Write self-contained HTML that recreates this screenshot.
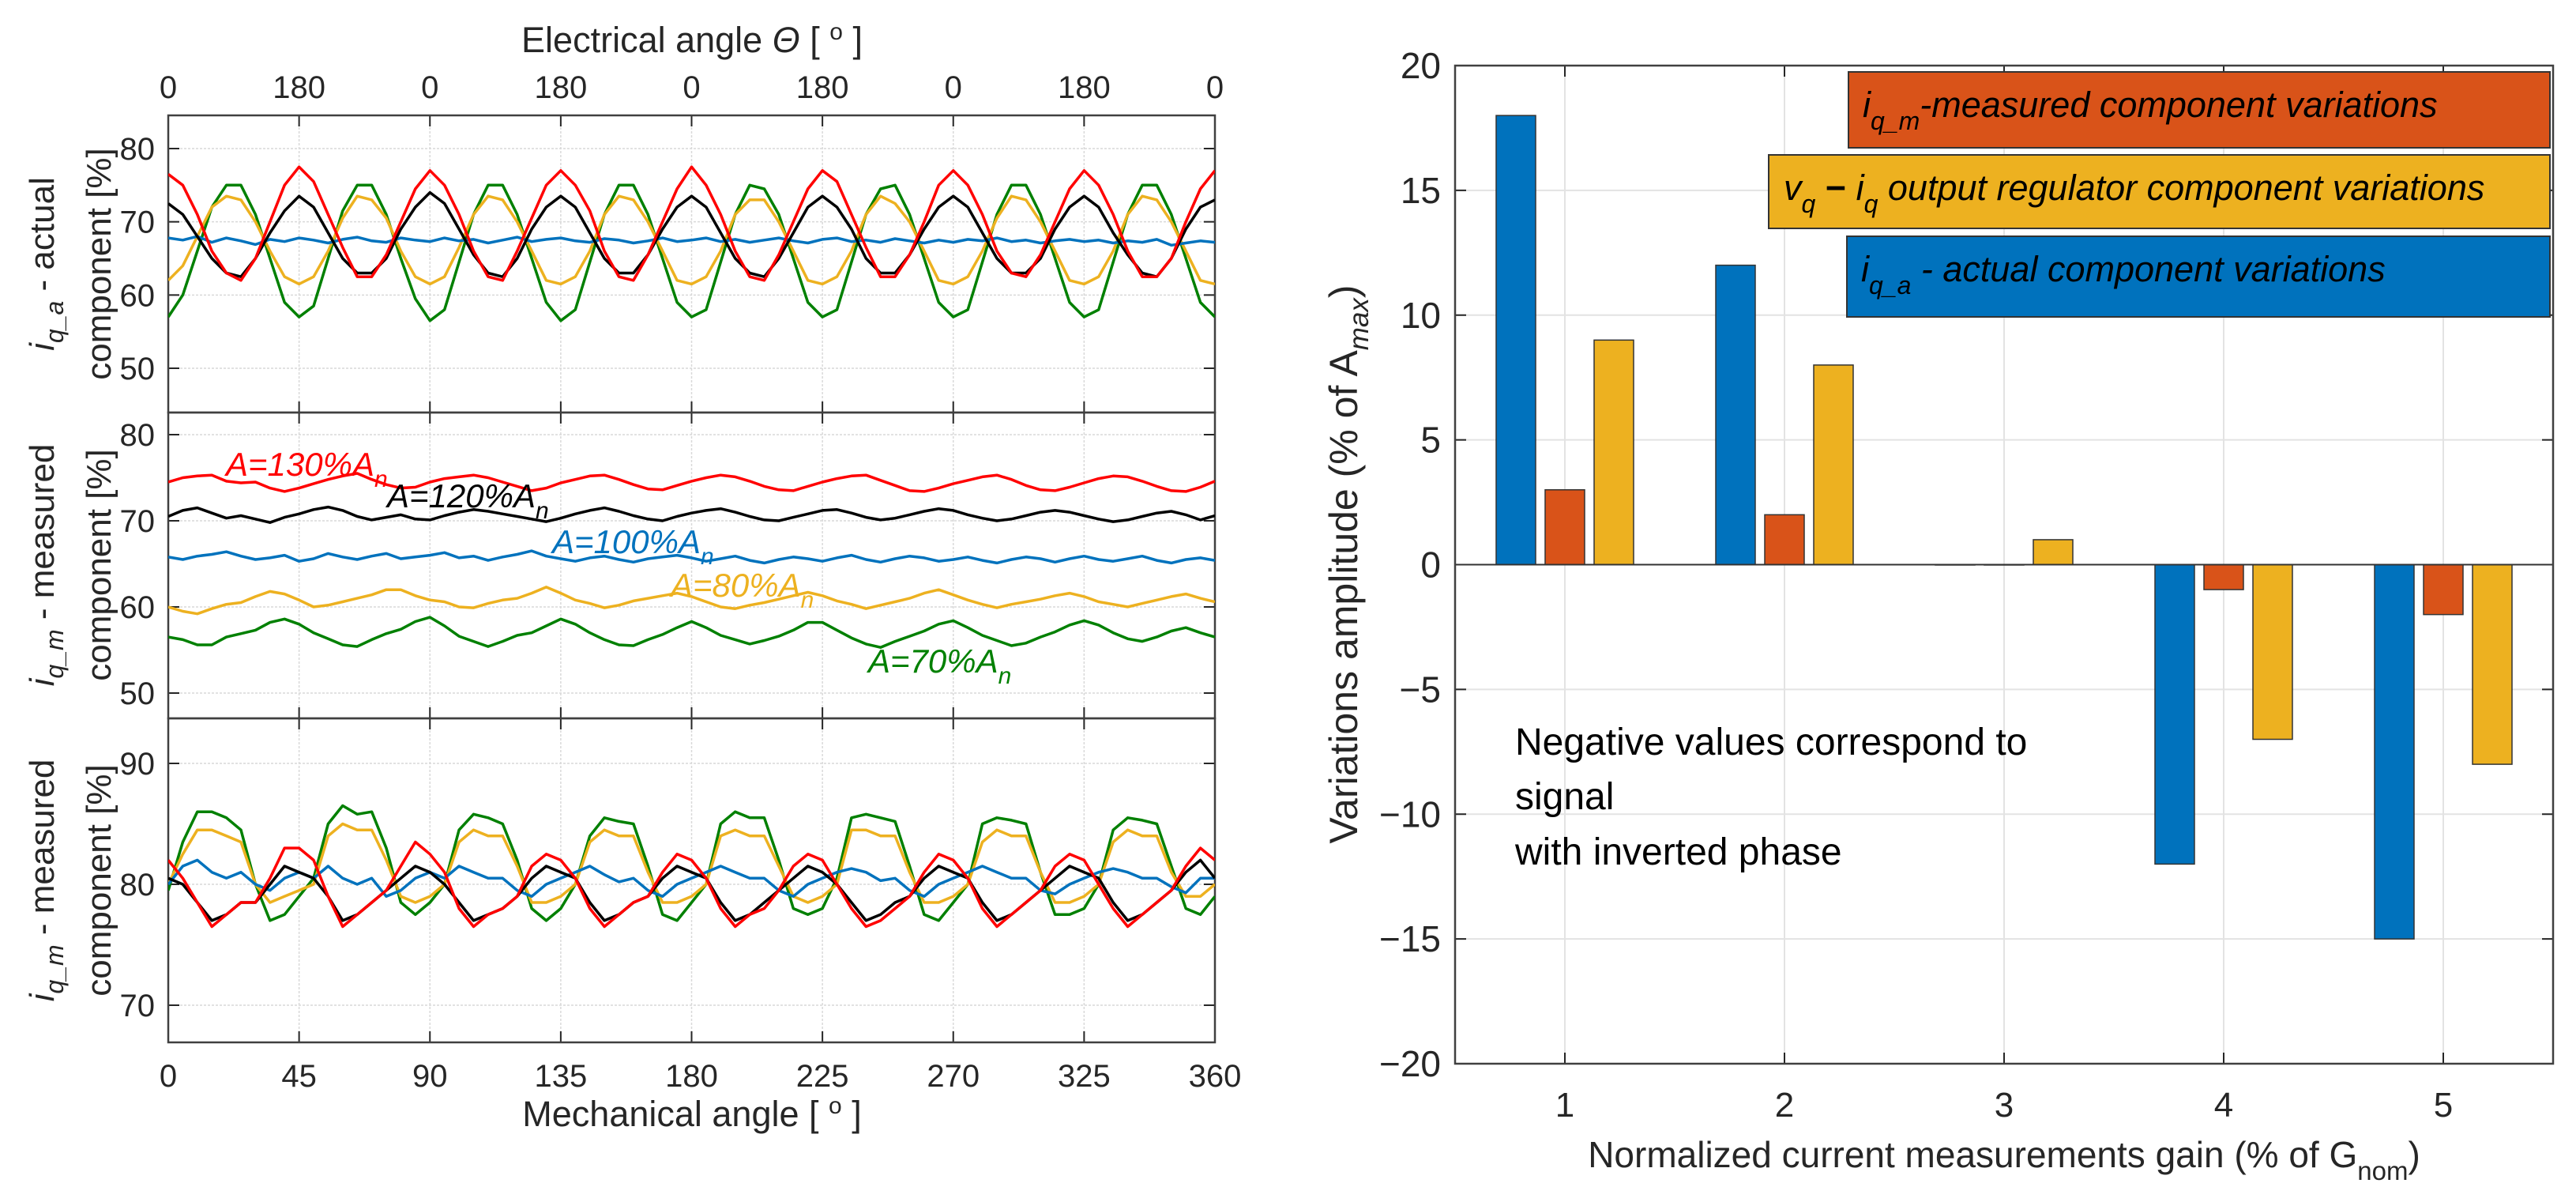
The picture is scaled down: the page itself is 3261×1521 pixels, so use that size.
<!DOCTYPE html>
<html><head><meta charset="utf-8"><style>
html,body{margin:0;padding:0;background:#fff;}
svg{display:block;font-family:"Liberation Sans",sans-serif;}
</style></head><body>
<svg id="root" width="3261" height="1521" viewBox="0 0 3261 1521" xmlns="http://www.w3.org/2000/svg">
<defs>
<clipPath id="c1"><rect x="213" y="146" width="1325" height="376"/></clipPath>
<clipPath id="c2"><rect x="213" y="522" width="1325" height="387"/></clipPath>
<clipPath id="c3"><rect x="213" y="909" width="1325" height="410"/></clipPath>
</defs>
<g id="left"></g>
<g id="right"></g>
</svg>
<script>
// ===== Left chart data =====
const elecTicks = ["0","180","0","180","0","180","0","180","0"];
const mechTicks = ["0","45","90","135","180","225","270","325","360"];
const p1Ticks = [50,60,70,80];
const p2Ticks = [50,60,70,80];
const p3Ticks = [70,80,90];

const red1 = [76.5,75,71,66,63,62,65,70,75, 77.5,75.5,71,66.5,62.5,62.5,65.5,70,74.5, 77,75,71,66,62.5,62,66,70.5,75, 77,75,71.5,66,62.5,62,65.5,70,74.5, 77.5,75,71,66,62.5,62,65.5,70,74.5, 77,75.5,71,66.5,62.5,62.5,65.5,70,75, 77,75,71,66,63,62.5,65.5,70,74.5, 77,75,71,66,62.5,62.5,65,70,74.5, 77];
const black1 = [72.5,71,68,65,63,62.5,65,68.5,71.5, 73.5,72,68.5,65,63,63,65,69,72, 74,72.5,69,65.5,63,62.5,65,69,72, 73.5,72,68.5,65,63,63,65.5,69,72, 73.5,72,68.5,65,63,62.5,65,68.5,72, 73.5,72,69,65,63,63,65.5,69,72, 73.5,72,68.5,65,63,63,65,69,72, 73.5,72,68.5,65.5,63,62.5,65,69,72, 73];
const yellow1 = [62,64,68,72,73.5,73,70,66,62.5, 61.5,62.5,66,70.5,73.5,73,70.5,66,62.5, 61.5,62.5,66.5,71,73.5,73,70,66,62, 61.5,62.5,66,71,73.5,73,70,66,62, 61.5,62.5,66,71,73,73,70,66,62, 61.5,62.5,66,71,73.5,72.5,70,66,62, 61.5,62.5,66,70.5,73.5,73,70,66,62, 61.5,62.5,66,71,73.5,73,70,66,62, 61.5];
const green1 = [57,60,66,72,75,75,71,65,59, 57,58.5,65,71.5,75,75,71,65,59.5, 56.5,58,64.5,71,75,75,71,65,59, 56.5,58,64.5,71,75,75,71,65,59, 57,58,64.5,71,75,74.5,71,65,59, 57,58,64.5,71,74.5,75,71,65,59, 57,58,64.5,71,75,75,71,65,59, 57,58,64.5,71,75,75,71,65,59, 57];
const blue1 = [67.8,67.5,68,67.2,67.8,67.4,66.9,67.6,67.3, 67.8,67.5,67.1,67.6,67.9,67.4,67.2,67.8,67.5, 67.3,67.8,67.4,67.6,67.1,67.5,67.9,67.3,67.6, 67.8,67.4,67.2,67.7,67.5,67.1,67.4,67.8,67.3, 67.5,67.8,67.3,67.6,67.2,67.5,67.8,67.4,67.1, 67.6,67.8,67.3,67.5,67.2,67.7,67.4,67.1,67.5, 67.2,67.6,67.4,67.8,67.3,67.5,67.1,67.4,67.6, 67.3,67.5,67.1,67.4,67.2,67.6,66.8,67.1,67.4, 67.2];

const red2 = [74.5,75,75.2,75.3,74.6,74.4,74.5,73.8,73.4,73.8,74.3,74.8,75.2,75.5,74.8,74.2,73.8,73.9,74.5,74.9,75.1,75.3,75,74.5,74,73.5,73.8,74.4,74.8,75.2,75.3,74.8,74.2,73.7,73.6,74.1,74.6,75,75.3,75.1,74.6,74,73.6,73.5,74,74.5,74.9,75.2,75.3,74.7,74.1,73.5,73.4,73.8,74.3,74.7,75.1,75.3,74.8,74.1,73.6,73.5,73.9,74.4,74.9,75.2,75.1,74.6,74,73.5,73.4,73.9,74.6];
const black2 = [70.5,71.2,71.5,70.9,70.3,70.6,70.2,69.8,70.4,70.8,71.3,71.6,71.2,70.5,70.1,70.4,70.7,70.2,70.1,70.6,71,71.3,71.1,70.8,70.5,70.2,69.9,70.3,70.8,71.2,71.5,71.1,70.6,70.2,70,70.5,70.9,71.2,71.4,71,70.5,70.1,70,70.4,70.8,71.2,71.3,70.9,70.4,70.1,70.3,70.7,71.1,71.4,71.2,70.7,70.3,70,70.2,70.6,71,71.2,71,70.6,70.2,69.9,70.1,70.5,70.9,71.1,70.7,70.1,70.6];
const blue2 = [65.8,65.5,65.9,66.1,66.4,65.9,65.5,65.7,66,65.3,65.6,66.2,65.8,65.5,65.9,66.2,65.6,65.8,66,66.3,65.7,65.9,65.4,65.8,66.1,66.5,65.9,65.6,65.3,65.7,65.9,65.5,65.2,65.6,65.8,66,65.7,65.3,65.6,65.9,65.4,65.1,65.5,65.8,65.6,65.3,65.7,66,65.5,65.2,65.6,65.9,65.7,65.3,65.5,65.8,65.4,65.1,65.5,65.8,65.6,65.2,65.6,65.9,65.5,65.3,65.6,65.9,65.4,65.1,65.5,65.7,65.4];
const yellow2 = [60,59.5,59.2,59.8,60.3,60.5,61.2,61.8,61.5,60.8,60,60.2,60.6,61,61.4,62,62,61.3,60.8,60.6,60,59.9,60.4,60.8,61,61.6,62.3,61.6,60.8,60.4,59.9,60.2,60.7,61,61.3,61.6,61.2,60.6,60,59.8,60.2,60.5,60.9,61.3,61.7,61.3,60.7,60.3,59.8,60.2,60.6,61,61.6,62,61.4,60.8,60.3,59.9,60.3,60.6,60.9,61.3,61.6,61.2,60.6,60.3,60,60.4,60.8,61.2,61.5,61,60.6];
const green2 = [56.5,56.2,55.6,55.6,56.5,56.9,57.3,58.2,58.6,58,57,56.3,55.6,55.4,56.2,56.9,57.4,58.3,58.8,57.8,56.6,56,55.4,56,56.7,57,57.8,58.6,58,57,56.2,55.6,55.5,56.2,56.8,57.6,58.3,57.6,56.7,56.2,55.7,56.1,56.6,57.3,58.2,58.2,57.3,56.4,55.7,55.3,56,56.6,57.2,58,58.4,57.6,56.7,56.1,55.5,55.8,56.5,57.1,57.9,58.4,57.9,57,56.3,56,56.5,57.2,57.6,57,56.5];

const green3 = [79.5,83.5,86,86,85.5,84.5,80,77,77.5, 79,80.5,85,86.5,85.8,86,83,78.5,77.5, 78.5,80,84.5,85.8,85.5,85,82,78,77, 78,80,84,85.5,85.2,85,81.5,77.5,77, 78.5,80,85,86,85.5,85.5,82,78,77.5, 78,80.5,85.5,85.8,85.5,85.2,81.5,77.5,77, 78.5,80,85,85.5,85.3,85,81,77.5,77.5, 78,80,84.5,85.5,85.3,85,81.5,78,77.5, 79];
const yellow3 = [80,82.5,84.5,84.5,84,83.5,80,78.5,79, 79.5,80,84,85,84.5,84.5,82,79,78.5, 79,80,83.5,84.5,84,84,81.5,78.5,78.5, 79,80,83.5,84.5,84,84,81,78.5,78.5, 79,80,84,84.5,84,84,81.5,79,78.5, 79,80,84.5,84.5,84,84,81,78.5,78.5, 79,80,83.5,84.5,84,84,81,78.5,78.5, 79,80,83.5,84.5,84,84,81,79,79, 80];
const red3 = [82,80.5,78.5,76.5,77.5,78.5,78.5,80.5,83, 83,82,79,76.5,77.5,78.5,79.5,81.5,83.5, 82.5,81,78,76.5,77.5,78,79,81.5,82.5, 82,80.5,78,76.5,77.5,78.5,79,81,82.5, 82,80.5,78,76.5,77.5,78,79.5,81.5,82.5, 82,80,78,76.5,77,78,79,81,82.5, 82,80.5,78,76.5,77.5,78.5,79.5,81.5,82.5, 82,80,78,76.5,77.5,78.5,79.5,81.5,83, 82];
const black3 = [80.5,80,78.5,77,77.5,78.5,78.5,80,81.5, 81,80.5,79,77,77.5,78.5,79.5,80.5,81.5, 81,80,78.5,77,77.5,78,79,80.5,81.5, 81,80.5,78.5,77,77.5,78.5,79,80.5,81.5, 81,80.5,78.5,77,77.5,78.5,79.5,80.5,81.5, 81,80,78.5,77,77.5,78.5,79,80.5,81.5, 81,80.5,78.5,77,77.5,78.5,79.5,80.5,81.5, 81,80.5,78.5,77,77.5,78.5,79.5,81,82, 80.5];
const blue3 = [80,81.5,82,81,80.5,81,80,79.5,80.5, 81,80.5,81.5,80.5,80,80.5,79,79.5,80.5, 81,80.5,81.5,81,80.5,80.5,79.5,79,80, 80.5,81,81.5,80.8,80.2,80.5,79.5,79,80, 80.5,81,81.5,81,80.5,80.5,79.5,79,80, 80.5,81,81.3,81,80.3,80.5,79.5,79,80, 80.5,81,81.5,81,80.5,80.5,79.5,79.2,80, 80.5,81,81.3,81,80.5,80.5,79.8,79.3,80.5, 80.5];

// ===== Right chart data =====
const barCats = ["1","2","3","4","5"];
const actualVals = [18,12,0,-12,-15];
const measuredVals = [3,2,0,-1,-2];
const regulatorVals = [9,8,1,-7,-8];
const barYTicks = [-20,-15,-10,-5,0,5,10,15,20];

const NS = "http://www.w3.org/2000/svg";
function mk(parent, tag, attrs, text) {
  const e = document.createElementNS(NS, tag);
  for (const k in attrs) e.setAttribute(k, attrs[k]);
  if (text !== undefined) e.textContent = text;
  parent.appendChild(e);
  return e;
}
const TXT = "#262626";
const L = document.getElementById("left");
const R = document.getElementById("right");

// ---------- Left chart ----------
const X0 = 213, X1 = 1538;
const xMech = d => X0 + d / 360 * (X1 - X0);
const panels = [
  {top:146, bot:522, vA:80, yA:188, vB:50, yB:466, ticks:p1Ticks, clip:"c1", name:"actual"},
  {top:522, bot:909, vA:80, yA:550, vB:50, yB:877, ticks:p2Ticks, clip:"c2", name:"measured-a"},
  {top:909, bot:1319, vA:90, yA:966, vB:70, yB:1272, ticks:p3Ticks, clip:"c3", name:"measured-b"}
];
panels.forEach(p => { p.y = v => p.yA + (v - p.vA) * (p.yB - p.yA) / (p.vB - p.vA); });

panels.forEach((p, pi) => {
  const g = mk(L, "g", {});
  
  
  mechTicks.forEach((t, i) => {
    const x = xMech(i * 45);
    const gl = mk(g, "line", {x1:x, x2:x, y1:p.top, y2:p.bot, stroke:"#d9d9d9", "stroke-width":1.5, "stroke-dasharray":"3,2"});
    
    
    const t1 = mk(g, "line", {x1:x, x2:x, y1:p.top, y2:p.top + 14, stroke:TXT, "stroke-width":2});
    
    
    const t2 = mk(g, "line", {x1:x, x2:x, y1:p.bot, y2:p.bot - 14, stroke:TXT, "stroke-width":2});
    
    
  });
  p.ticks.forEach(v => {
    const y = p.y(v);
    const gl = mk(g, "line", {x1:X0, x2:X1, y1:y, y2:y, stroke:"#d9d9d9", "stroke-width":1.5, "stroke-dasharray":"3,2"});
    
    
    const tl = mk(g, "line", {x1:X0, x2:X0 + 14, y1:y, y2:y, stroke:TXT, "stroke-width":2});
    
    
    const tr = mk(g, "line", {x1:X1, x2:X1 - 14, y1:y, y2:y, stroke:TXT, "stroke-width":2});
    
    
    const lb = mk(g, "text", {x:196, y:y + 14, "text-anchor":"end", "font-size":40, fill:TXT}, String(v));
    
    
  });
  const box = mk(g, "rect", {x:X0, y:p.top, width:X1 - X0, height:p.bot - p.top, fill:"none", stroke:"#404040", "stroke-width":2.5});
  
  
});

const seriesSets = [
  [[green1,"#008000"],[yellow1,"#edb120"],[blue1,"#0072bd"],[black1,"#000000"],[red1,"#ff0000"]],
  [[green2,"#008000"],[yellow2,"#edb120"],[blue2,"#0072bd"],[black2,"#000000"],[red2,"#ff0000"]],
  [[green3,"#008000"],[yellow3,"#edb120"],[blue3,"#0072bd"],[black3,"#000000"],[red3,"#ff0000"]]
];
const seriesNames = ["a-70","a-80","a-100","a-120","a-130"];
seriesSets.forEach((set, pi) => {
  const p = panels[pi];
  const g = mk(L, "g", {"clip-path":"url(#" + p.clip + ")"});
  set.forEach(([arr, col], si) => {
    const n = arr.length;
    const pts = arr.map((v, i) => xMech(i * 360 / (n - 1)).toFixed(1) + "," + p.y(v).toFixed(1)).join(" ");
    const pl = mk(g, "polyline", {points:pts, fill:"none", stroke:col, "stroke-width":3.5, "stroke-linejoin":"round"});
    
    
  });
});

elecTicks.forEach((t, i) => {
  const lb = mk(L, "text", {x:xMech(i * 45), y:124, "text-anchor":"middle", "font-size":40, fill:TXT}, t);
  
  
});
mechTicks.forEach((t, i) => {
  const lb = mk(L, "text", {x:xMech(i * 45), y:1375, "text-anchor":"middle", "font-size":40, fill:TXT}, t);
  
  
});
</script>
<script>
(function(){
  const NS = "http://www.w3.org/2000/svg";
  const L = document.getElementById("left");
  const t = document.createElementNS(NS,"g"); L.appendChild(t);
  t.innerHTML = `
  <text x="876" y="66" text-anchor="middle" font-size="45" fill="#262626">Electrical angle <tspan font-style="italic">Θ</tspan> [ <tspan dy="-16" font-size="30">o</tspan><tspan dy="16"> ]</tspan></text>
  <text x="876" y="1425" text-anchor="middle" font-size="45" fill="#262626">Mechanical angle [ <tspan dy="-16" font-size="30">o</tspan><tspan dy="16"> ]</tspan></text>
  <g transform="translate(0,334) rotate(-90)" fill="#262626" font-size="44" text-anchor="middle">
    <text x="0" y="68"><tspan font-style="italic">i</tspan><tspan font-style="italic" font-size="32" dy="12">q_a</tspan><tspan dy="-12"> - actual</tspan></text>
    <text x="0" y="140">component [%]</text>
  </g>
  <g transform="translate(0,715) rotate(-90)" fill="#262626" font-size="44" text-anchor="middle">
    <text x="0" y="68"><tspan font-style="italic">i</tspan><tspan font-style="italic" font-size="32" dy="12">q_m</tspan><tspan dy="-12"> - measured</tspan></text>
    <text x="0" y="140">component [%]</text>
  </g>
  <g transform="translate(0,1114) rotate(-90)" fill="#262626" font-size="44" text-anchor="middle">
    <text x="0" y="68"><tspan font-style="italic">i</tspan><tspan font-style="italic" font-size="32" dy="12">q_m</tspan><tspan dy="-12"> - measured</tspan></text>
    <text x="0" y="140">component [%]</text>
  </g>
  <g font-style="italic" font-size="42">
    <text x="286" y="602" fill="#ff0000">A=130%A<tspan font-size="30" dy="14">n</tspan></text>
    <text x="490" y="642" fill="#000000">A=120%A<tspan font-size="30" dy="14">n</tspan></text>
    <text x="699" y="700" fill="#0072bd">A=100%A<tspan font-size="30" dy="14">n</tspan></text>
    <text x="849" y="755" fill="#edb120">A=80%A<tspan font-size="30" dy="14">n</tspan></text>
    <text x="1099" y="851" fill="#008000">A=70%A<tspan font-size="30" dy="14">n</tspan></text>
  </g>`;
})();
</script>
<script>
// ---------- Right chart ----------
const BX0 = 1842, BX1 = 3232, BY20 = 83, BYm20 = 1346;
const bx = c => BX0 + (c - 0.5) / 5 * (BX1 - BX0);
const by = v => BY20 + (20 - v) / 40 * (BYm20 - BY20);

barCats.forEach((c, i) => {
  const x = bx(i + 1);
  const gl = mk(R, "line", {x1:x, x2:x, y1:BY20, y2:BYm20, stroke:"#e3e3e3", "stroke-width":2});
  
  
  const tk = mk(R, "line", {x1:x, x2:x, y1:BYm20, y2:BYm20 - 14, stroke:TXT, "stroke-width":2});
  
  
  const tk2 = mk(R, "line", {x1:x, x2:x, y1:BY20, y2:BY20 + 14, stroke:TXT, "stroke-width":2});
  
  
  const lb = mk(R, "text", {x:x, y:1413, "text-anchor":"middle", "font-size":44, fill:TXT}, c);
  
  
});
barYTicks.forEach(v => {
  const y = by(v);
  const gl = mk(R, "line", {x1:BX0, x2:BX1, y1:y, y2:y, stroke:"#e3e3e3", "stroke-width":2});
  
  
  const tk = mk(R, "line", {x1:BX0, x2:BX0 + 14, y1:y, y2:y, stroke:TXT, "stroke-width":2});
  
  
  const tk2 = mk(R, "line", {x1:BX1, x2:BX1 - 14, y1:y, y2:y, stroke:TXT, "stroke-width":2});
  
  
  const lb = mk(R, "text", {x:1824, y:y + 16, "text-anchor":"end", "font-size":46, fill:TXT}, v < 0 ? "\u2212" + (-v) : String(v));
  
  
});

const barSeries = [[actualVals, "#0072bd", -62, "bar-actual"], [measuredVals, "#d95319", 0, "bar-measured"], [regulatorVals, "#edb120", 62, "bar-regulator"]];
barSeries.forEach(([vals, col, off, nm]) => {
  vals.forEach((v, i) => {
    const cx = bx(i + 1) + off;
    const y0 = by(0), y1 = by(v);
    const r = mk(R, "rect", {x:cx - 25, y:Math.min(y0, y1), width:50, height:Math.max(Math.abs(y1 - y0), 0.5), fill:col, stroke:"#333", "stroke-width":1.5});
    
    
  });
});
const zl = mk(R, "line", {x1:BX0, x2:BX1, y1:by(0), y2:by(0), stroke:"#333", "stroke-width":2});


const rbox = mk(R, "rect", {x:BX0, y:BY20, width:BX1 - BX0, height:BYm20 - BY20, fill:"none", stroke:"#404040", "stroke-width":2.5});


</script>
<script>
(function(){
  const NS = "http://www.w3.org/2000/svg";
  const R = document.getElementById("right");
  const t = document.createElementNS(NS,"g"); R.appendChild(t);
  t.innerHTML = `
  <g font-style="italic" font-size="45" fill="#000">
    <g>
      <rect x="2340" y="91" width="888" height="96" fill="#d95319" stroke="#333" stroke-width="2"/>
      <text x="2358" y="148">i<tspan font-size="32" dy="16">q_m</tspan><tspan dy="-16">-measured  component variations</tspan></text>
    </g>
    <g>
      <rect x="2239" y="196" width="989" height="93" fill="#edb120" stroke="#333" stroke-width="2"/>
      <text x="2258" y="253">v<tspan font-size="32" dy="16">q</tspan><tspan dy="-16" font-style="normal" font-weight="bold"> − </tspan>i<tspan font-size="32" dy="16">q</tspan><tspan dy="-16"> output regulator component variations</tspan></text>
    </g>
    <g>
      <rect x="2338" y="299" width="890" height="102" fill="#0072bd" stroke="#333" stroke-width="2"/>
      <text x="2356" y="356">i<tspan font-size="32" dy="16">q_a</tspan><tspan dy="-16"> - actual component variations</tspan></text>
    </g>
  </g>
  <g font-size="48" fill="#000">
    <text x="1918" y="955">Negative values correspond to</text>
    <text x="1918" y="1024">signal</text>
    <text x="1918" y="1094">with inverted phase</text>
  </g>
  <text x="2537" y="1477" text-anchor="middle" font-size="46" fill="#262626">Normalized current measurements gain (% of G<tspan font-size="33" dy="16">nom</tspan><tspan dy="-16">)</tspan></text>
  <text transform="translate(1718,714) rotate(-90)" x="0" y="0" text-anchor="middle" font-size="50" fill="#262626">Variations amplitude  (% of A<tspan font-style="italic" font-size="35" dy="14">max</tspan><tspan dy="-14">)</tspan></text>`;
})();
</script>
</body></html>
